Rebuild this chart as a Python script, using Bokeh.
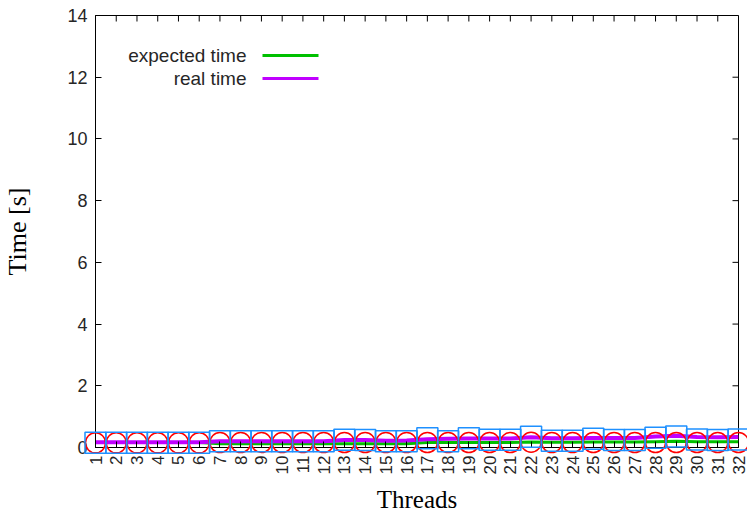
from math import pi

from bokeh.core.properties import value
from bokeh.embed import file_html
from bokeh.models import (BoxAnnotation, ColumnDataSource, FixedTicker, Label,
                          Range1d)
from bokeh.plotting import figure
from bokeh.resources import INLINE

# Benchmark timings per thread count (seconds)
threads = list(range(1, 33))
expected_time = [0.16, 0.16, 0.16, 0.16, 0.16, 0.16,
                 0.12, 0.12, 0.12, 0.12, 0.12, 0.12,
                 0.12, 0.12, 0.12, 0.12,
                 0.16, 0.16, 0.16, 0.16, 0.16,
                 0.18, 0.17, 0.17, 0.18, 0.18, 0.18,
                 0.19, 0.20, 0.19, 0.19, 0.19]
real_time = [0.17, 0.17, 0.17, 0.17, 0.17, 0.17,
             0.20, 0.20, 0.20, 0.20, 0.20, 0.20,
             0.24, 0.24, 0.22, 0.23,
             0.27, 0.28, 0.29, 0.29, 0.29,
             0.33, 0.30, 0.30, 0.31, 0.31, 0.31,
             0.36, 0.38, 0.34, 0.33, 0.34]
min_time = [0.15, 0.15, 0.15, 0.15, 0.15, 0.15,
            0.16, 0.16, 0.16, 0.16, 0.16, 0.16,
            0.16, 0.16, 0.16, 0.16,
            0.16, 0.16, 0.16, 0.16, 0.16,
            0.17, 0.16, 0.16, 0.16, 0.16, 0.16,
            0.16, 0.16, 0.16, 0.16, 0.16]
max_time = [0.15, 0.15, 0.15, 0.15, 0.15, 0.15,
            0.20, 0.20, 0.20, 0.20, 0.20, 0.20,
            0.25, 0.24, 0.20, 0.20,
            0.30, 0.20, 0.30, 0.25, 0.25,
            0.35, 0.22, 0.22, 0.28, 0.24, 0.24,
            0.32, 0.36, 0.26, 0.24, 0.26]
thread_labels = [str(t) for t in threads]
y_ticks = [0, 2, 4, 6, 8, 10, 12, 14]
x_title = "Threads"

src = ColumnDataSource(dict(threads=threads, expected=expected_time,
                            real=real_time, tmin=min_time, tmax=max_time))

TICK_FONT = "Liberation Sans"
LABEL_FONT = "Liberation Serif"
TEXT_COLOR = "#262626"

x_range = Range1d(1, 32)
y_range = Range1d(0, 14)
p = figure(width=747, height=512, output_backend="svg", toolbar_location=None,
           x_range=x_range, y_range=y_range,
           min_border_left=93, min_border_right=9, min_border_top=15,
           min_border_bottom=65, y_axis_label="Time [s]")
p.grid.visible = False
p.outline_line_color = "black"
p.outline_line_width = 1
p.background_fill_color = "white"
p.border_fill_color = "white"

xa = p.xaxis[0]
xa.ticker = FixedTicker(ticks=threads)
xa.major_label_overrides = {t: lbl for t, lbl in zip(threads, thread_labels)}
xa.major_label_orientation = pi / 2
xa.major_label_standoff = 8
xa.major_label_text_font_size = "17px"

ya = p.yaxis[0]
ya.ticker = FixedTicker(ticks=y_ticks)
ya.major_label_standoff = 8
ya.major_label_text_font_size = "18px"
ya.axis_label_standoff = 32
ya.axis_label_text_font_size = "26px"
ya.axis_label_text_font = LABEL_FONT
ya.axis_label_text_font_style = "normal"
ya.axis_label_text_color = "black"

for ax in (xa, ya):
    ax.major_tick_in = 6
    ax.major_tick_out = 0
    ax.minor_tick_line_color = None
    ax.axis_line_color = "black"
    ax.major_tick_line_color = "black"
    ax.major_label_text_font = TICK_FONT
    ax.major_label_text_color = TEXT_COLOR

# x axis title, hung below the tick labels from the middle of the x range
t = p.text(x=[(x_range.start + x_range.end) / 2], y=[y_range.start], text=[x_title],
           y_offset=52, text_align="center", text_baseline="middle",
           text_font=value(LABEL_FONT), text_font_size="25px", text_color="black")
t.level = "overlay"

# mirrored tick marks along the top and right borders
p.ray(x=threads, y=[y_range.end] * len(threads), length=6, length_units="screen",
      angle=-pi / 2, line_color="black", line_width=1)
p.ray(x=[x_range.end] * len(y_ticks), y=y_ticks, length=6, length_units="screen",
      angle=pi, line_color="black", line_width=1)

# per-run markers
c = p.scatter("threads", "tmin", source=src, marker="circle", size=20,
              fill_color=None, line_color="#ff0000", line_width=1.5)
s = p.scatter("threads", "tmax", source=src, marker="square", size=21,
              fill_color=None, line_color="#1e90ff", line_width=1.5)
c.level = "overlay"
s.level = "overlay"

p.line("threads", "expected", source=src, line_color="#00c000", line_width=3)
p.line("threads", "real", source=src, line_color="#c000ff", line_width=4)

# key in the upper left corner
keys = [("expected time", "#00c000", 392), ("real time", "#c000ff", 369)]
for text, color, ys in keys:
    p.add_layout(Label(x=151, y=ys, x_units="screen", y_units="screen", text=text,
                       text_align="right", text_baseline="middle",
                       text_font=TICK_FONT, text_font_size="19px",
                       text_color=TEXT_COLOR))
    p.add_layout(BoxAnnotation(left=167, right=223, bottom=ys - 1.5, top=ys + 1.5,
                               left_units="screen", right_units="screen",
                               bottom_units="screen", top_units="screen",
                               fill_color=color, fill_alpha=1, line_color=None))

open("out.html", "w").write(file_html(p, INLINE))
